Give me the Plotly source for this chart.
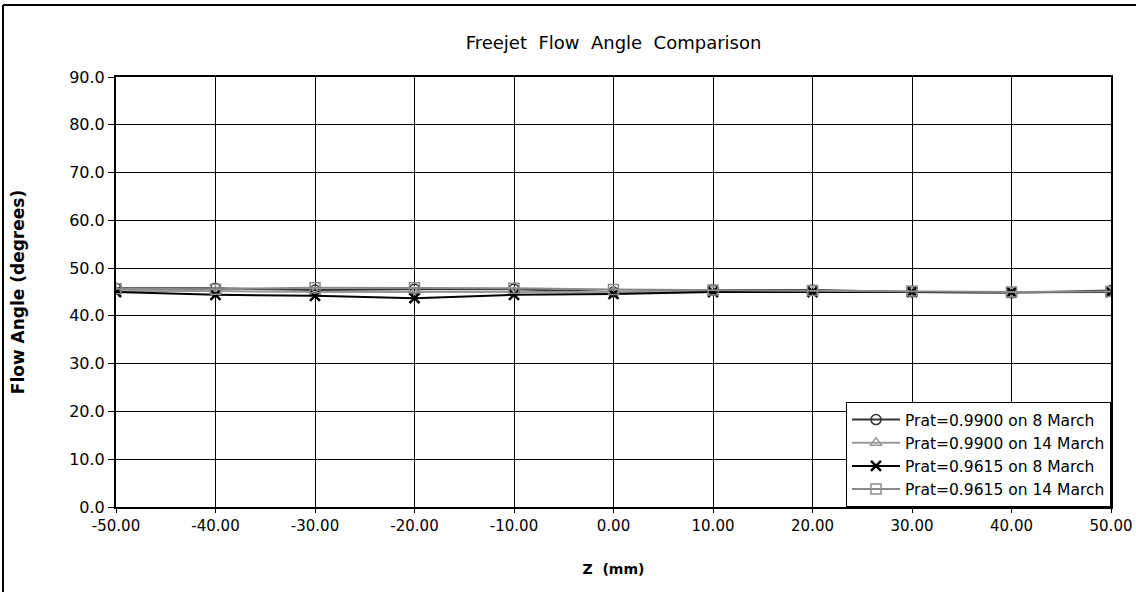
import plotly.graph_objects as go

z_mm = [-50, -40, -30, -20, -10, 0, 10, 20, 30, 40, 50]
prat0990_8mar = [45.8, 45.8, 45.4, 45.6, 45.6, 45.0, 45.4, 45.4, 45.0, 44.8, 45.3]
prat0990_14mar = [45.2, 45.2, 45.0, 45.0, 45.0, 45.0, 45.2, 45.1, 45.0, 44.9, 45.0]
prat0961_8mar = [45.0, 44.4, 44.2, 43.7, 44.4, 44.6, 45.0, 45.0, 45.0, 44.9, 45.0]
prat0961_14mar = [45.7, 45.6, 45.9, 45.9, 45.8, 45.5, 45.4, 45.3, 45.2, 45.0, 45.1]

names = ["Prat=0.9900 on 8 March", "Prat=0.9900 on 14 March",
         "Prat=0.9615 on 8 March", "Prat=0.9615 on 14 March"]
series = [prat0990_8mar, prat0990_14mar, prat0961_8mar, prat0961_14mar]
colors = ["#333333", "#9a9a9a", "#000000", "#8a8a8a"]
symbols = ["circle-open", "triangle-up-open", "x-thin-open", "square-open"]

fig = go.Figure()
for nm, ys, c, s in zip(names, series, colors, symbols):
    fig.add_trace(go.Scatter(
        x=z_mm, y=ys, name=nm, mode="lines+markers",
        line=dict(color=c, width=2),
        marker=dict(symbol=s, size=10, color=c, line=dict(color=c, width=2.5 if "x" in s else 1.5)),
    ))

L, R, T, B = 116, 25, 77, 96
W, H = 1136, 603
pw, ph = W - L - R, H - T - B

fig.update_layout(
    width=W, height=H,
    margin=dict(l=L, r=R, t=T, b=B),
    paper_bgcolor="white", plot_bgcolor="white",
    font=dict(family="DejaVu Sans", size=15, color="black"),
    title=dict(text="Freejet  Flow  Angle  Comparison", x=(L + pw / 2) / W, xanchor="center",
               y=1 - 43 / H, yanchor="middle",
               font=dict(family="DejaVu Sans", size=18, color="black")),
    xaxis=dict(range=[-50, 50], tickvals=list(range(-50, 51, 10)),
               ticktext=[f"{v:.2f}" for v in range(-50, 51, 10)],
               showgrid=True, gridcolor="black", gridwidth=1,
               showline=True, linecolor="black", linewidth=2, mirror=True,
               ticks="outside", ticklen=4, tickcolor="black",
               tickfont=dict(size=15), automargin=False,
               zeroline=False,
               title=dict(text="<b>Z  (mm)</b>", font=dict(size=14), standoff=30)),
    yaxis=dict(range=[0, 90], tickvals=list(range(0, 91, 10)),
               ticktext=[f"{v:.1f}" for v in range(0, 91, 10)],
               showgrid=True, gridcolor="black", gridwidth=1,
               showline=True, linecolor="black", linewidth=2, mirror=True,
               ticks="outside", ticklen=6, tickcolor="black",
               tickfont=dict(size=16), automargin=False,
               zeroline=False,
               title=dict(text="<b>Flow Angle (degrees)</b>", font=dict(size=17), standoff=40)),
    legend=dict(x=1, y=0, xanchor="right", yanchor="bottom",
                bgcolor="white", bordercolor="black", borderwidth=1,
                font=dict(size=15.5), tracegroupgap=0, itemwidth=48),
    showlegend=True,
)

# outer frame of the figure (top and left edges)
fig.add_shape(type="line", xref="paper", yref="paper",
              x0=(3 - L) / pw, x1=(W + 10 - L) / pw,
              y0=(H - 5 - B) / ph, y1=(H - 5 - B) / ph,
              line=dict(color="black", width=2), layer="below")
fig.add_shape(type="line", xref="paper", yref="paper",
              x0=(3 - L) / pw, x1=(3 - L) / pw,
              y0=(H - 5 - B) / ph, y1=(H - 592 - B) / ph,
              line=dict(color="black", width=2), layer="below")

fig.write_html("out.html", config={"displayModeBar": False},
               post_script="document.body.style.margin='0px';")
